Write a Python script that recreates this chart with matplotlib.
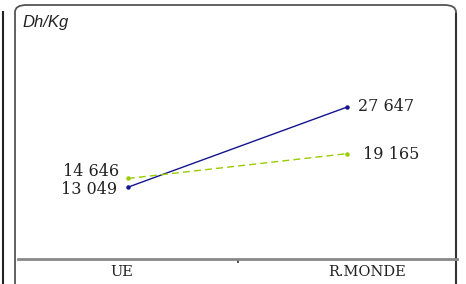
import matplotlib
matplotlib.use("Agg")
import matplotlib.pyplot as plt
from matplotlib.patches import FancyBboxPatch
from matplotlib.lines import Line2D

# Data
categories = ["UE", "R.MONDE"]
series_blue = [13049, 27647]
series_green = [14646, 19165]
unit_label = "Dh/Kg"


def fmt(v):
    return f"{v:,}".replace(",", " ")


W, H = 466, 284
fig = plt.figure(figsize=(W / 100, H / 100), dpi=100)

# panel frame (rounded), bottom runs off the image
frame = FancyBboxPatch((15 / W, -0.2), (456 - 15) / W, (H - 5) / H + 0.2,
                       boxstyle="round,pad=0,rounding_size=0.025",
                       transform=fig.transFigure, facecolor="none",
                       edgecolor="#555555", linewidth=1.3, zorder=-1)
fig.patches.append(frame)
# right edge darker
fig.add_artist(Line2D([456 / W, 456 / W], [0, (H - 14) / H], transform=fig.transFigure,
                      color="#333333", linewidth=1.5))
# edge of the neighbouring panel on the left
fig.add_artist(Line2D([3 / W, 3 / W], [0, (H - 12) / H], transform=fig.transFigure,
                      color="#222222", linewidth=1.5))

ax = fig.add_axes([18 / W, (H - 259) / H, (457 - 18) / W, (259 - 5) / H])
ax.set_facecolor("none")
ax.set_zorder(2)
x = [0, 1]
ax.plot(x, series_blue, color="#14148f", linewidth=1.0, marker="o", markersize=2.2)
ax.plot(x, series_green, color="#99cc00", linewidth=1.0, linestyle=(0, (5, 3)),
        marker="o", markersize=2.2)

ax.set_xlim(-0.5, 1.5)
ax.set_ylim(0, 46200)

serif = {"family": "DejaVu Serif", "size": 11.5, "color": "#222222"}
# left side labels
ax.annotate(fmt(series_green[0]), (x[0], series_green[0]), xytext=(-6, 5),
            textcoords="offset points", ha="right", va="center", **serif)
ax.annotate(fmt(series_blue[0]), (x[0], series_blue[0]), xytext=(-8, -1.5),
            textcoords="offset points", ha="right", va="center", **serif)
# right side labels
ax.annotate(fmt(series_blue[1]), (x[1], series_blue[1]), xytext=(8, 0.5),
            textcoords="offset points", ha="left", va="center", **serif)
ax.annotate(fmt(series_green[1]), (x[1], series_green[1]), xytext=(11, -0.5),
            textcoords="offset points", ha="left", va="center", **serif)

for s in ["top", "right", "left"]:
    ax.spines[s].set_visible(False)
ax.spines["bottom"].set_color("#888888")
ax.spines["bottom"].set_linewidth(2)
ax.set_yticks([])
ax.set_xticks([0.5], minor=True)
ax.tick_params(axis="x", which="minor", length=3, width=1.2, color="#333333")
ax.set_xticks(x)
ax.set_xticklabels([])
ax.tick_params(axis="x", which="major", length=0)

# category labels (slightly off the point positions, as in the source)
label_shift = [-4.5, 14]
for xi, cat, dx in zip(x, categories, label_shift):
    ax.annotate(cat, (xi, 0), xytext=(dx, -9), textcoords="offset points",
                ha="center", va="center", family="DejaVu Serif", fontsize=10.5,
                color="#222222", annotation_clip=False)

fig.text(22 / W, 1 - 22 / H, unit_label, fontsize=12, style="italic",
         family="Liberation Sans", color="#222222", va="center", ha="left")

fig.savefig("out.png", dpi=100)
